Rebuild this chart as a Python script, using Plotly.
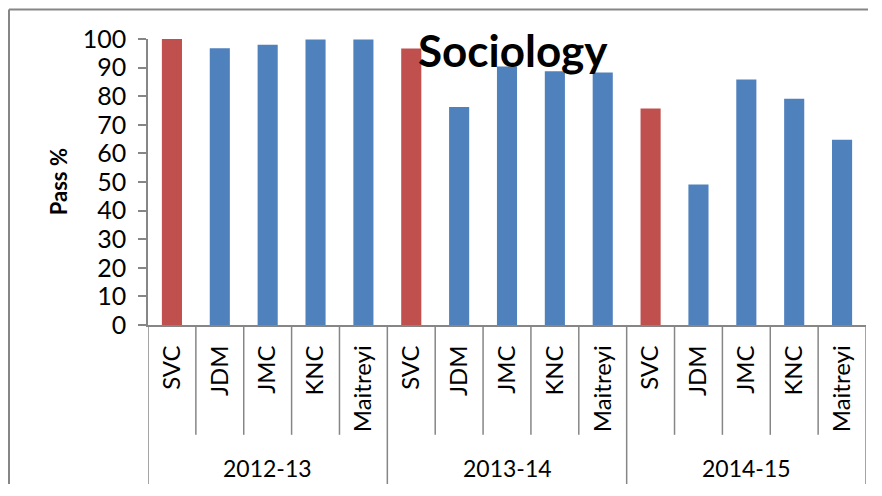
import plotly.graph_objects as go

# Data
years = ["2012-13", "2013-14", "2014-15"]
colleges = ["SVC", "JDM", "JMC", "KNC", "Maitreyi"]
pass_2012 = [100, 96.8, 98, 99.8, 99.8]
pass_2013 = [96.7, 76.2, 90.4, 88.7, 88.3]
pass_2014 = [75.7, 49.1, 85.8, 79.1, 64.8]
y_ticks = [0, 10, 20, 30, 40, 50, 60, 70, 80, 90, 100]

values = pass_2012 + pass_2013 + pass_2014
labels = colleges * len(years)
positions = list(range(len(values)))

red = "#C0504D"
blue = "#4F81BD"
grey = "#868686"
colors = [red if name == "SVC" else blue for name in labels]

fig = go.Figure()
fig.add_trace(go.Bar(
    x=positions,
    y=values,
    width=0.42,
    marker=dict(color=colors, line=dict(width=0)),
    showlegend=False,
))

# Category table lines below the axis
shapes = []
n_per = len(colleges)
for i in range(len(values) + 1):
    group_edge = i % n_per == 0
    shapes.append(dict(
        type="line", xref="x", yref="paper",
        x0=i - 0.5, x1=i - 0.5, y0=0, y1=-0.565 if group_edge else -0.384,
        line=dict(color=grey, width=1.5),
    ))

# Outer chart border (only left and top edges are visible)
shapes.append(dict(
    type="line", xref="paper", yref="paper",
    x0=-0.1936, x1=-0.1936, y0=-0.7, y1=1.103,
    line=dict(color=grey, width=2),
))
shapes.append(dict(
    type="line", xref="paper", yref="paper",
    x0=-0.1936, x1=1.1, y0=1.103, y1=1.103,
    line=dict(color=grey, width=2),
))

annotations = []
for g, year in enumerate(years):
    annotations.append(dict(
        x=g * n_per + (n_per - 1) / 2, y=-0.499, xref="x", yref="paper",
        text=year, showarrow=False,
        font=dict(family="Lato", size=23, color="black"),
        xanchor="center", yanchor="middle",
    ))

annotations.append(dict(
    x=-0.125, y=0.5, xref="paper", yref="paper",
    text="<b>Pass %</b>", textangle=-90, showarrow=False,
    font=dict(family="Lato", size=22, color="black"),
    xanchor="center", yanchor="middle",
))

fig.update_layout(
    width=860,
    height=476,
    margin=dict(l=140, r=2, t=30.5, b=159),
    title=dict(
        text="<b>Sociology</b>",
        x=0.508, xref="paper", xanchor="center",
        y=1 - 43.9 / 476, yref="container", yanchor="middle",
        font=dict(family="Lato", size=44, color="black"),
    ),
    xaxis=dict(
        range=[-0.5, len(values) - 0.5],
        tickmode="array",
        tickvals=positions,
        ticktext=labels,
        tickangle=-90,
        ticks="",
        ticklabelstandoff=9,
        tickfont=dict(family="Lato", size=24, color="black"),
        showline=True,
        linecolor=grey,
        linewidth=1.5,
        showgrid=False,
        zeroline=False,
    ),
    yaxis=dict(
        range=[0, 100],
        tickmode="array",
        tickvals=y_ticks,
        ticks="outside",
        ticklen=8,
        tickcolor=grey,
        tickwidth=1.5,
        ticklabelstandoff=7,
        tickfont=dict(family="Lato", size=25, color="black"),
        showline=True,
        linecolor=grey,
        linewidth=1.5,
        showgrid=False,
        zeroline=False,
    ),
    shapes=shapes,
    annotations=annotations,
    plot_bgcolor="white",
    paper_bgcolor="white",
)

fig.write_html("out.html")
